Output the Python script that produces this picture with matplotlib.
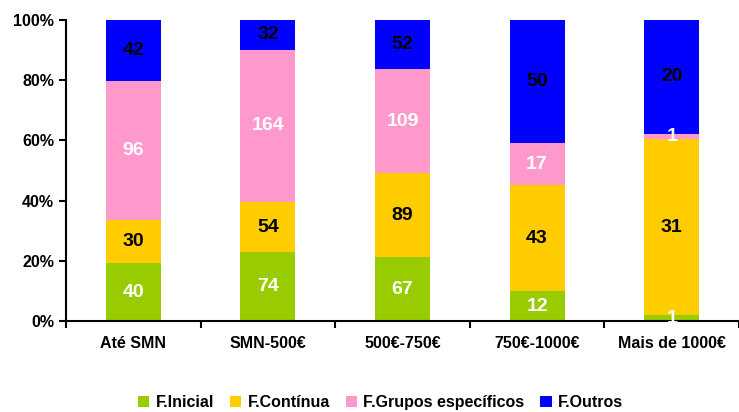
import matplotlib.pyplot as plt
import numpy as np
from matplotlib.ticker import FixedLocator, PercentFormatter

plt.rcParams['font.family'] = ['Liberation Sans', 'DejaVu Sans']
plt.rcParams['font.weight'] = 'bold'

# Data (counts per wage bracket)
categories = ["Até SMN", "SMN-500€", "500€-750€", "750€-1000€", "Mais de 1000€"]
f_inicial = [40, 74, 67, 12, 1]
f_continua = [30, 54, 89, 43, 31]
f_grupos = [96, 164, 109, 17, 1]
f_outros = [42, 32, 52, 50, 20]

series = [
    ("F.Inicial", f_inicial, "#99CC00", "white"),
    ("F.Contínua", f_continua, "#FFCC00", "black"),
    ("F.Grupos específicos", f_grupos, "#FF99CC", "white"),
    ("F.Outros", f_outros, "#0000FF", "black"),
]

totals = np.array(f_inicial) + np.array(f_continua) + np.array(f_grupos) + np.array(f_outros)

fig = plt.figure(figsize=(7.39, 4.12), dpi=100)
ax = fig.add_axes([0.0893, 0.2209, 0.9107, 0.7306])

x = np.arange(len(categories))
bottom = np.zeros(len(categories))
for name, vals, color, tcolor in series:
    frac = np.array(vals) / totals * 100
    ax.bar(x, frac, width=0.41, bottom=bottom, color=color, label=name)
    for xi, b, f, v in zip(x, bottom, frac, vals):
        ax.text(xi, b + f / 2, str(v), ha='center', va='center',
                color=tcolor, fontsize=14, fontweight='bold')
    bottom += frac

ax.set_xlim(-0.5, 4.5)
ax.set_ylim(0, 100)
ax.set_yticks(range(0, 101, 20))
ax.yaxis.set_major_formatter(PercentFormatter(decimals=0))
ax.set_xticks(x)
ax.set_xticklabels(categories)
ax.xaxis.set_minor_locator(FixedLocator(np.arange(-0.5, 4.6, 1)))
ax.tick_params(axis='x', which='major', length=0, pad=11, labelsize=11.5)
ax.tick_params(axis='x', which='minor', length=5, width=1.5, direction='out')
ax.tick_params(axis='y', length=5, width=1.5, direction='out', labelsize=11.5)

for s in ['top', 'right']:
    ax.spines[s].set_visible(False)
for s in ['left', 'bottom']:
    ax.spines[s].set_linewidth(1.5)

fig.legend(loc='center', bbox_to_anchor=(0.515, 0.022), ncol=4, frameon=False,
           fontsize=11.5, handlelength=0.7, handleheight=0.7, handletextpad=0.4,
           columnspacing=1.0)

plt.savefig('out.png', dpi=100)
